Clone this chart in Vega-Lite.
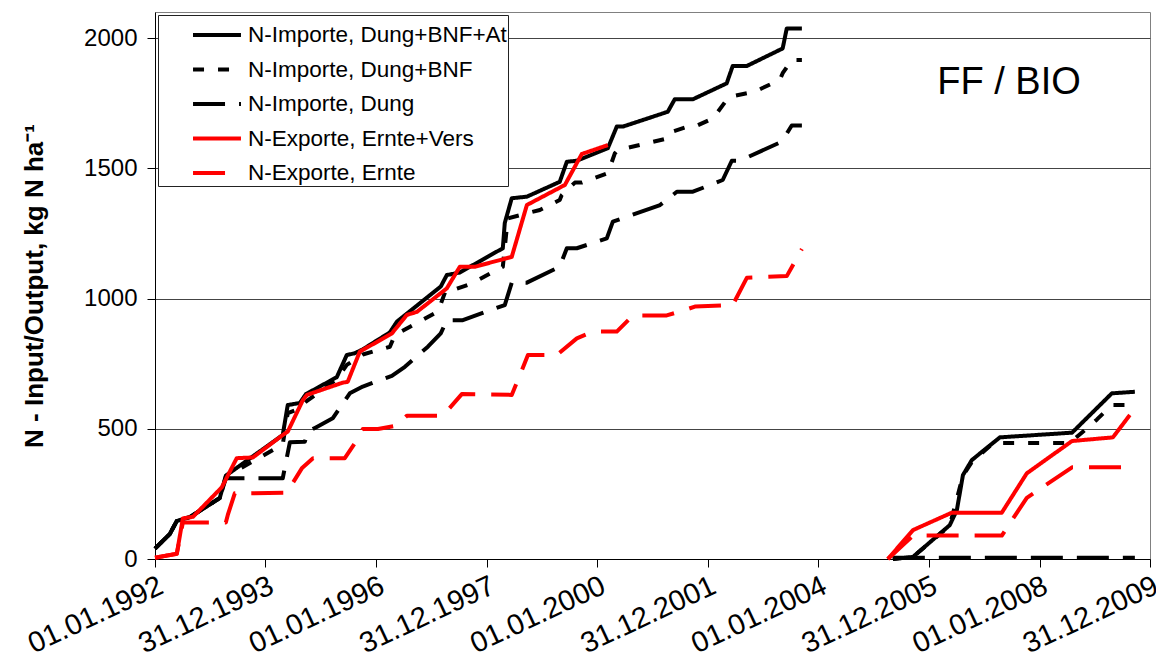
{
  "$schema": "https://vega.github.io/schema/vega-lite/v6.json",
  "width": 995,
  "height": 547,
  "autosize": {"type": "none"},
  "padding": {"left": 155, "top": 12, "right": 6, "bottom": 112},
  "background": "white",
  "config": {
    "font": "Liberation Sans",
    "view": {"stroke": "#808080", "strokeWidth": 1},
    "axis": {"labelFont": "Liberation Sans", "titleFont": "Liberation Sans", "labelColor": "black", "titleColor": "black", "domainColor": "black", "tickColor": "black"},
    "legend": {
      "title": null,
      "orient": "top-left",
      "offset": 3,
      "labelFontSize": 22.5,
      "labelFont": "Liberation Sans",
      "labelColor": "black",
      "labelLimit": 400,
      "symbolType": "M-1.41,0H1.41",
      "symbolSize": 1156,
      "symbolStrokeWidth": 4,
      "symbolOffset": 39,
      "labelOffset": 12,
      "strokeColor": "#222",
      "fillColor": "white",
      "padding": 1,
      "rowPadding": 3.5
    }
  },
  "datasets": {
    "lines": [
      {"series": "N-Importe, Dung+BNF+At", "part": 1, "date": "1992-01-01", "value": 40},
      {"series": "N-Importe, Dung+BNF+At", "part": 1, "date": "1992-04-08", "value": 96},
      {"series": "N-Importe, Dung+BNF+At", "part": 1, "date": "1992-05-24", "value": 146},
      {"series": "N-Importe, Dung+BNF+At", "part": 1, "date": "1992-08-19", "value": 161},
      {"series": "N-Importe, Dung+BNF+At", "part": 1, "date": "1993-03-04", "value": 234},
      {"series": "N-Importe, Dung+BNF+At", "part": 1, "date": "1993-04-13", "value": 320},
      {"series": "N-Importe, Dung+BNF+At", "part": 1, "date": "1994-04-24", "value": 476},
      {"series": "N-Importe, Dung+BNF+At", "part": 1, "date": "1994-05-27", "value": 591},
      {"series": "N-Importe, Dung+BNF+At", "part": 1, "date": "1994-08-15", "value": 599},
      {"series": "N-Importe, Dung+BNF+At", "part": 1, "date": "1994-09-24", "value": 633},
      {"series": "N-Importe, Dung+BNF+At", "part": 1, "date": "1995-04-16", "value": 698},
      {"series": "N-Importe, Dung+BNF+At", "part": 1, "date": "1995-06-21", "value": 783},
      {"series": "N-Importe, Dung+BNF+At", "part": 1, "date": "1995-08-13", "value": 790},
      {"series": "N-Importe, Dung+BNF+At", "part": 1, "date": "1995-10-05", "value": 805},
      {"series": "N-Importe, Dung+BNF+At", "part": 1, "date": "1996-04-01", "value": 870},
      {"series": "N-Importe, Dung+BNF+At", "part": 1, "date": "1996-05-17", "value": 911},
      {"series": "N-Importe, Dung+BNF+At", "part": 1, "date": "1997-03-03", "value": 1046},
      {"series": "N-Importe, Dung+BNF+At", "part": 1, "date": "1997-04-12", "value": 1090},
      {"series": "N-Importe, Dung+BNF+At", "part": 1, "date": "1997-07-07", "value": 1100},
      {"series": "N-Importe, Dung+BNF+At", "part": 1, "date": "1998-04-17", "value": 1193},
      {"series": "N-Importe, Dung+BNF+At", "part": 1, "date": "1998-04-30", "value": 1290},
      {"series": "N-Importe, Dung+BNF+At", "part": 1, "date": "1998-06-15", "value": 1385},
      {"series": "N-Importe, Dung+BNF+At", "part": 1, "date": "1998-09-23", "value": 1391},
      {"series": "N-Importe, Dung+BNF+At", "part": 1, "date": "1999-04-28", "value": 1448},
      {"series": "N-Importe, Dung+BNF+At", "part": 1, "date": "1999-06-14", "value": 1525},
      {"series": "N-Importe, Dung+BNF+At", "part": 1, "date": "1999-08-19", "value": 1529},
      {"series": "N-Importe, Dung+BNF+At", "part": 1, "date": "2000-03-11", "value": 1577},
      {"series": "N-Importe, Dung+BNF+At", "part": 1, "date": "2000-05-09", "value": 1660},
      {"series": "N-Importe, Dung+BNF+At", "part": 1, "date": "2000-06-18", "value": 1660},
      {"series": "N-Importe, Dung+BNF+At", "part": 1, "date": "2001-04-11", "value": 1717},
      {"series": "N-Importe, Dung+BNF+At", "part": 1, "date": "2001-05-27", "value": 1765},
      {"series": "N-Importe, Dung+BNF+At", "part": 1, "date": "2001-09-24", "value": 1765},
      {"series": "N-Importe, Dung+BNF+At", "part": 1, "date": "2002-05-05", "value": 1826},
      {"series": "N-Importe, Dung+BNF+At", "part": 1, "date": "2002-06-14", "value": 1893},
      {"series": "N-Importe, Dung+BNF+At", "part": 1, "date": "2002-09-16", "value": 1893},
      {"series": "N-Importe, Dung+BNF+At", "part": 1, "date": "2003-05-10", "value": 1960},
      {"series": "N-Importe, Dung+BNF+At", "part": 1, "date": "2003-06-06", "value": 2037},
      {"series": "N-Importe, Dung+BNF+At", "part": 1, "date": "2003-09-14", "value": 2037},
      {"series": "N-Importe, Dung+BNF+At", "part": 2, "date": "2005-05-07", "value": 0},
      {"series": "N-Importe, Dung+BNF+At", "part": 2, "date": "2005-09-17", "value": 8},
      {"series": "N-Importe, Dung+BNF+At", "part": 2, "date": "2006-05-18", "value": 130},
      {"series": "N-Importe, Dung+BNF+At", "part": 2, "date": "2006-07-04", "value": 188},
      {"series": "N-Importe, Dung+BNF+At", "part": 2, "date": "2006-08-13", "value": 322},
      {"series": "N-Importe, Dung+BNF+At", "part": 2, "date": "2006-10-11", "value": 380},
      {"series": "N-Importe, Dung+BNF+At", "part": 2, "date": "2007-04-14", "value": 467},
      {"series": "N-Importe, Dung+BNF+At", "part": 2, "date": "2008-08-03", "value": 485},
      {"series": "N-Importe, Dung+BNF+At", "part": 2, "date": "2009-04-23", "value": 636},
      {"series": "N-Importe, Dung+BNF+At", "part": 2, "date": "2009-09-22", "value": 642},

      {"series": "N-Importe, Dung+BNF", "part": 1, "date": "1992-01-01", "value": 40},
      {"series": "N-Importe, Dung+BNF", "part": 1, "date": "1992-04-08", "value": 96},
      {"series": "N-Importe, Dung+BNF", "part": 1, "date": "1992-05-24", "value": 146},
      {"series": "N-Importe, Dung+BNF", "part": 1, "date": "1992-08-19", "value": 161},
      {"series": "N-Importe, Dung+BNF", "part": 1, "date": "1993-03-04", "value": 234},
      {"series": "N-Importe, Dung+BNF", "part": 1, "date": "1993-04-13", "value": 316},
      {"series": "N-Importe, Dung+BNF", "part": 1, "date": "1994-04-24", "value": 440},
      {"series": "N-Importe, Dung+BNF", "part": 1, "date": "1994-05-27", "value": 560},
      {"series": "N-Importe, Dung+BNF", "part": 1, "date": "1994-08-15", "value": 578},
      {"series": "N-Importe, Dung+BNF", "part": 1, "date": "1994-09-24", "value": 604},
      {"series": "N-Importe, Dung+BNF", "part": 1, "date": "1995-04-16", "value": 690},
      {"series": "N-Importe, Dung+BNF", "part": 1, "date": "1995-06-21", "value": 745},
      {"series": "N-Importe, Dung+BNF", "part": 1, "date": "1995-10-05", "value": 785},
      {"series": "N-Importe, Dung+BNF", "part": 1, "date": "1996-04-01", "value": 815},
      {"series": "N-Importe, Dung+BNF", "part": 1, "date": "1996-05-04", "value": 860},
      {"series": "N-Importe, Dung+BNF", "part": 1, "date": "1997-02-13", "value": 950},
      {"series": "N-Importe, Dung+BNF", "part": 1, "date": "1997-04-06", "value": 1033},
      {"series": "N-Importe, Dung+BNF", "part": 1, "date": "1997-06-04", "value": 1035},
      {"series": "N-Importe, Dung+BNF", "part": 1, "date": "1997-09-25", "value": 1058},
      {"series": "N-Importe, Dung+BNF", "part": 1, "date": "1998-04-17", "value": 1122},
      {"series": "N-Importe, Dung+BNF", "part": 1, "date": "1998-05-20", "value": 1308},
      {"series": "N-Importe, Dung+BNF", "part": 1, "date": "1998-12-18", "value": 1340},
      {"series": "N-Importe, Dung+BNF", "part": 1, "date": "1999-04-28", "value": 1378},
      {"series": "N-Importe, Dung+BNF", "part": 1, "date": "1999-05-11", "value": 1397},
      {"series": "N-Importe, Dung+BNF", "part": 1, "date": "1999-08-06", "value": 1445},
      {"series": "N-Importe, Dung+BNF", "part": 1, "date": "1999-09-21", "value": 1445},
      {"series": "N-Importe, Dung+BNF", "part": 1, "date": "2000-03-11", "value": 1481},
      {"series": "N-Importe, Dung+BNF", "part": 1, "date": "2000-04-26", "value": 1557},
      {"series": "N-Importe, Dung+BNF", "part": 1, "date": "2000-05-16", "value": 1570},
      {"series": "N-Importe, Dung+BNF", "part": 1, "date": "2001-04-11", "value": 1615},
      {"series": "N-Importe, Dung+BNF", "part": 1, "date": "2001-05-07", "value": 1640},
      {"series": "N-Importe, Dung+BNF", "part": 1, "date": "2001-08-22", "value": 1660},
      {"series": "N-Importe, Dung+BNF", "part": 1, "date": "2001-10-07", "value": 1660},
      {"series": "N-Importe, Dung+BNF", "part": 1, "date": "2002-02-04", "value": 1692},
      {"series": "N-Importe, Dung+BNF", "part": 1, "date": "2002-05-12", "value": 1768},
      {"series": "N-Importe, Dung+BNF", "part": 1, "date": "2002-06-14", "value": 1777},
      {"series": "N-Importe, Dung+BNF", "part": 1, "date": "2002-11-08", "value": 1794},
      {"series": "N-Importe, Dung+BNF", "part": 1, "date": "2002-12-24", "value": 1807},
      {"series": "N-Importe, Dung+BNF", "part": 1, "date": "2003-04-21", "value": 1839},
      {"series": "N-Importe, Dung+BNF", "part": 1, "date": "2003-05-10", "value": 1865},
      {"series": "N-Importe, Dung+BNF", "part": 1, "date": "2003-07-09", "value": 1916},
      {"series": "N-Importe, Dung+BNF", "part": 1, "date": "2003-09-14", "value": 1916},
      {"series": "N-Importe, Dung+BNF", "part": 2, "date": "2005-05-07", "value": 0},
      {"series": "N-Importe, Dung+BNF", "part": 2, "date": "2005-09-17", "value": 8},
      {"series": "N-Importe, Dung+BNF", "part": 2, "date": "2006-05-18", "value": 128},
      {"series": "N-Importe, Dung+BNF", "part": 2, "date": "2006-08-13", "value": 320},
      {"series": "N-Importe, Dung+BNF", "part": 2, "date": "2006-10-11", "value": 372},
      {"series": "N-Importe, Dung+BNF", "part": 2, "date": "2007-02-28", "value": 445},
      {"series": "N-Importe, Dung+BNF", "part": 2, "date": "2008-07-19", "value": 445},
      {"series": "N-Importe, Dung+BNF", "part": 2, "date": "2009-01-15", "value": 536},
      {"series": "N-Importe, Dung+BNF", "part": 2, "date": "2009-04-23", "value": 591},
      {"series": "N-Importe, Dung+BNF", "part": 2, "date": "2009-09-22", "value": 591},

      {"series": "N-Importe, Dung", "part": 1, "date": "1992-01-01", "value": 40},
      {"series": "N-Importe, Dung", "part": 1, "date": "1992-04-08", "value": 96},
      {"series": "N-Importe, Dung", "part": 1, "date": "1992-05-24", "value": 146},
      {"series": "N-Importe, Dung", "part": 1, "date": "1992-08-19", "value": 161},
      {"series": "N-Importe, Dung", "part": 1, "date": "1993-03-04", "value": 234},
      {"series": "N-Importe, Dung", "part": 1, "date": "1993-04-13", "value": 310},
      {"series": "N-Importe, Dung", "part": 1, "date": "1994-04-24", "value": 310},
      {"series": "N-Importe, Dung", "part": 1, "date": "1994-06-10", "value": 448},
      {"series": "N-Importe, Dung", "part": 1, "date": "1994-09-17", "value": 450},
      {"series": "N-Importe, Dung", "part": 1, "date": "1994-10-07", "value": 489},
      {"series": "N-Importe, Dung", "part": 1, "date": "1994-11-29", "value": 505},
      {"series": "N-Importe, Dung", "part": 1, "date": "1995-03-20", "value": 540},
      {"series": "N-Importe, Dung", "part": 1, "date": "1995-07-11", "value": 636},
      {"series": "N-Importe, Dung", "part": 1, "date": "1995-10-05", "value": 662},
      {"series": "N-Importe, Dung", "part": 1, "date": "1996-04-14", "value": 703},
      {"series": "N-Importe, Dung", "part": 1, "date": "1996-07-09", "value": 738},
      {"series": "N-Importe, Dung", "part": 1, "date": "1996-12-08", "value": 815},
      {"series": "N-Importe, Dung", "part": 1, "date": "1997-03-03", "value": 866},
      {"series": "N-Importe, Dung", "part": 1, "date": "1997-04-12", "value": 917},
      {"series": "N-Importe, Dung", "part": 1, "date": "1997-07-27", "value": 917},
      {"series": "N-Importe, Dung", "part": 1, "date": "1998-04-30", "value": 975},
      {"series": "N-Importe, Dung", "part": 1, "date": "1998-06-15", "value": 1061},
      {"series": "N-Importe, Dung", "part": 1, "date": "1998-09-23", "value": 1061},
      {"series": "N-Importe, Dung", "part": 1, "date": "1999-04-28", "value": 1122},
      {"series": "N-Importe, Dung", "part": 1, "date": "1999-06-14", "value": 1193},
      {"series": "N-Importe, Dung", "part": 1, "date": "1999-08-19", "value": 1193},
      {"series": "N-Importe, Dung", "part": 1, "date": "2000-03-04", "value": 1231},
      {"series": "N-Importe, Dung", "part": 1, "date": "2000-04-13", "value": 1295},
      {"series": "N-Importe, Dung", "part": 1, "date": "2001-02-19", "value": 1359},
      {"series": "N-Importe, Dung", "part": 1, "date": "2001-06-10", "value": 1410},
      {"series": "N-Importe, Dung", "part": 1, "date": "2001-09-24", "value": 1410},
      {"series": "N-Importe, Dung", "part": 1, "date": "2002-04-09", "value": 1455},
      {"series": "N-Importe, Dung", "part": 1, "date": "2002-06-08", "value": 1529},
      {"series": "N-Importe, Dung", "part": 1, "date": "2002-07-30", "value": 1529},
      {"series": "N-Importe, Dung", "part": 1, "date": "2003-05-04", "value": 1602},
      {"series": "N-Importe, Dung", "part": 1, "date": "2003-07-09", "value": 1664},
      {"series": "N-Importe, Dung", "part": 1, "date": "2003-09-14", "value": 1664},
      {"series": "N-Importe, Dung", "part": 2, "date": "2005-05-07", "value": 5},
      {"series": "N-Importe, Dung", "part": 2, "date": "2009-09-22", "value": 5},

      {"series": "N-Exporte, Ernte+Vers", "part": 1, "date": "1992-01-01", "value": 5},
      {"series": "N-Exporte, Ernte+Vers", "part": 1, "date": "1992-05-24", "value": 20},
      {"series": "N-Exporte, Ernte+Vers", "part": 1, "date": "1992-07-03", "value": 156},
      {"series": "N-Exporte, Ernte+Vers", "part": 1, "date": "1992-09-08", "value": 162},
      {"series": "N-Exporte, Ernte+Vers", "part": 1, "date": "1993-03-17", "value": 275},
      {"series": "N-Exporte, Ernte+Vers", "part": 1, "date": "1993-06-24", "value": 387},
      {"series": "N-Exporte, Ernte+Vers", "part": 1, "date": "1993-10-09", "value": 390},
      {"series": "N-Exporte, Ernte+Vers", "part": 1, "date": "1994-04-24", "value": 476},
      {"series": "N-Exporte, Ernte+Vers", "part": 1, "date": "1994-05-27", "value": 489},
      {"series": "N-Exporte, Ernte+Vers", "part": 1, "date": "1994-09-04", "value": 610},
      {"series": "N-Exporte, Ernte+Vers", "part": 1, "date": "1994-10-01", "value": 630},
      {"series": "N-Exporte, Ernte+Vers", "part": 1, "date": "1995-05-25", "value": 677},
      {"series": "N-Exporte, Ernte+Vers", "part": 1, "date": "1995-06-27", "value": 680},
      {"series": "N-Exporte, Ernte+Vers", "part": 1, "date": "1995-09-15", "value": 796},
      {"series": "N-Exporte, Ernte+Vers", "part": 1, "date": "1996-04-14", "value": 866},
      {"series": "N-Exporte, Ernte+Vers", "part": 1, "date": "1996-07-22", "value": 937},
      {"series": "N-Exporte, Ernte+Vers", "part": 1, "date": "1996-09-27", "value": 949},
      {"series": "N-Exporte, Ernte+Vers", "part": 1, "date": "1997-04-12", "value": 1039},
      {"series": "N-Exporte, Ernte+Vers", "part": 1, "date": "1997-07-07", "value": 1122},
      {"series": "N-Exporte, Ernte+Vers", "part": 1, "date": "1997-10-15", "value": 1122},
      {"series": "N-Exporte, Ernte+Vers", "part": 1, "date": "1998-06-15", "value": 1160},
      {"series": "N-Exporte, Ernte+Vers", "part": 1, "date": "1998-09-23", "value": 1359},
      {"series": "N-Exporte, Ernte+Vers", "part": 1, "date": "1999-06-01", "value": 1436},
      {"series": "N-Exporte, Ernte+Vers", "part": 1, "date": "1999-09-21", "value": 1555},
      {"series": "N-Exporte, Ernte+Vers", "part": 1, "date": "2000-03-11", "value": 1589},
      {"series": "N-Exporte, Ernte+Vers", "part": 2, "date": "2005-04-04", "value": 0},
      {"series": "N-Exporte, Ernte+Vers", "part": 2, "date": "2005-09-17", "value": 111},
      {"series": "N-Exporte, Ernte+Vers", "part": 2, "date": "2006-06-01", "value": 178},
      {"series": "N-Exporte, Ernte+Vers", "part": 2, "date": "2007-04-27", "value": 178},
      {"series": "N-Exporte, Ernte+Vers", "part": 2, "date": "2007-10-09", "value": 329},
      {"series": "N-Exporte, Ernte+Vers", "part": 2, "date": "2008-08-03", "value": 453},
      {"series": "N-Exporte, Ernte+Vers", "part": 2, "date": "2009-04-30", "value": 467},
      {"series": "N-Exporte, Ernte+Vers", "part": 2, "date": "2009-08-20", "value": 553},

      {"series": "N-Exporte, Ernte", "part": 1, "date": "1992-01-01", "value": 5},
      {"series": "N-Exporte, Ernte", "part": 1, "date": "1992-05-24", "value": 20},
      {"series": "N-Exporte, Ernte", "part": 1, "date": "1992-07-03", "value": 140},
      {"series": "N-Exporte, Ernte", "part": 1, "date": "1993-04-13", "value": 140},
      {"series": "N-Exporte, Ernte", "part": 1, "date": "1993-04-26", "value": 169},
      {"series": "N-Exporte, Ernte", "part": 1, "date": "1993-06-11", "value": 252},
      {"series": "N-Exporte, Ernte", "part": 1, "date": "1994-05-20", "value": 254},
      {"series": "N-Exporte, Ernte", "part": 1, "date": "1994-08-28", "value": 348},
      {"series": "N-Exporte, Ernte", "part": 1, "date": "1994-11-10", "value": 387},
      {"series": "N-Exporte, Ernte", "part": 1, "date": "1995-06-08", "value": 387},
      {"series": "N-Exporte, Ernte", "part": 1, "date": "1995-08-13", "value": 444},
      {"series": "N-Exporte, Ernte", "part": 1, "date": "1995-10-05", "value": 499},
      {"series": "N-Exporte, Ernte", "part": 1, "date": "1996-01-13", "value": 499},
      {"series": "N-Exporte, Ernte", "part": 1, "date": "1996-05-17", "value": 512},
      {"series": "N-Exporte, Ernte", "part": 1, "date": "1996-07-22", "value": 550},
      {"series": "N-Exporte, Ernte", "part": 1, "date": "1997-03-17", "value": 550},
      {"series": "N-Exporte, Ernte", "part": 1, "date": "1997-07-20", "value": 633},
      {"series": "N-Exporte, Ernte", "part": 1, "date": "1998-06-15", "value": 630},
      {"series": "N-Exporte, Ernte", "part": 1, "date": "1998-08-08", "value": 706},
      {"series": "N-Exporte, Ernte", "part": 1, "date": "1998-09-30", "value": 783},
      {"series": "N-Exporte, Ernte", "part": 1, "date": "1999-04-08", "value": 783},
      {"series": "N-Exporte, Ernte", "part": 1, "date": "1999-08-19", "value": 847},
      {"series": "N-Exporte, Ernte", "part": 1, "date": "1999-12-03", "value": 873},
      {"series": "N-Exporte, Ernte", "part": 1, "date": "2000-05-09", "value": 873},
      {"series": "N-Exporte, Ernte", "part": 1, "date": "2000-08-24", "value": 935},
      {"series": "N-Exporte, Ernte", "part": 1, "date": "2001-04-04", "value": 935},
      {"series": "N-Exporte, Ernte", "part": 1, "date": "2001-08-02", "value": 956},
      {"series": "N-Exporte, Ernte", "part": 1, "date": "2001-10-07", "value": 969},
      {"series": "N-Exporte, Ernte", "part": 1, "date": "2002-06-14", "value": 975},
      {"series": "N-Exporte, Ernte", "part": 1, "date": "2002-09-16", "value": 1080},
      {"series": "N-Exporte, Ernte", "part": 1, "date": "2003-06-06", "value": 1086},
      {"series": "N-Exporte, Ernte", "part": 1, "date": "2003-07-09", "value": 1120},
      {"series": "N-Exporte, Ernte", "part": 1, "date": "2003-09-14", "value": 1190},
      {"series": "N-Exporte, Ernte", "part": 2, "date": "2005-04-04", "value": 0},
      {"series": "N-Exporte, Ernte", "part": 2, "date": "2005-09-17", "value": 90},
      {"series": "N-Exporte, Ernte", "part": 2, "date": "2007-04-27", "value": 90},
      {"series": "N-Exporte, Ernte", "part": 2, "date": "2007-10-09", "value": 235},
      {"series": "N-Exporte, Ernte", "part": 2, "date": "2008-08-03", "value": 352},
      {"series": "N-Exporte, Ernte", "part": 2, "date": "2009-09-22", "value": 352}
    ],
    "notes": [
      {"label": "FF / BIO", "date": "2006-02-24", "value": 1785}
    ]
  },
  "layer": [
    {
      "data": {"name": "lines"},
      "mark": {"type": "line", "strokeWidth": 4, "strokeJoin": "round"},
      "encoding": {
        "x": {
          "field": "date", "type": "temporal",
          "scale": {"type": "utc", "domain": [{"year": 1992, "month": 1, "date": 1, "utc": true}, {"year": 2009, "month": 12, "date": 31, "utc": true}], "nice": false},
          "axis": {
            "title": null,
            "format": "%d.%m.%Y",
            "values": [
              {"year": 1992, "month": 1, "date": 1, "utc": true},
              {"year": 1993, "month": 12, "date": 31, "utc": true},
              {"year": 1996, "month": 1, "date": 1, "utc": true},
              {"year": 1997, "month": 12, "date": 31, "utc": true},
              {"year": 2000, "month": 1, "date": 1, "utc": true},
              {"year": 2001, "month": 12, "date": 31, "utc": true},
              {"year": 2004, "month": 1, "date": 1, "utc": true},
              {"year": 2005, "month": 12, "date": 31, "utc": true},
              {"year": 2008, "month": 1, "date": 1, "utc": true},
              {"year": 2009, "month": 12, "date": 31, "utc": true}
            ],
            "labelAngle": -25,
            "labelFontSize": 29,
            "labelAlign": "right",
            "labelBaseline": "top",
            "labelPadding": 4,
            "tickSize": 8,
            "grid": false,
            "labelOverlap": false,
            "labelFlush": false,
            "labelBound": false
          }
        },
        "y": {
          "field": "value", "type": "quantitative",
          "scale": {"domain": [0, 2100], "nice": false, "zero": true},
          "axis": {
            "title": "N - Input/Output, kg N ha⁻¹",
            "titleFontSize": 26,
            "titleFontWeight": "bold",
            "titlePadding": 36,
            "values": [0, 500, 1000, 1500, 2000],
            "format": "d",
            "labelFontSize": 24,
            "labelPadding": 10,
            "tickSize": 8,
            "grid": true,
            "gridColor": "#444",
            "gridWidth": 1
          }
        },
        "color": {
          "field": "series", "type": "nominal",
          "scale": {
            "domain": ["N-Importe, Dung+BNF+At", "N-Importe, Dung+BNF", "N-Importe, Dung", "N-Exporte, Ernte+Vers", "N-Exporte, Ernte"],
            "range": ["#000000", "#000000", "#000000", "#FF0000", "#FF0000"]
          },
          "legend": {"labelExpr": "datum.label + '      '"}
        },
        "strokeDash": {
          "field": "series", "type": "nominal",
          "scale": {
            "domain": ["N-Importe, Dung+BNF+At", "N-Importe, Dung+BNF", "N-Importe, Dung", "N-Exporte, Ernte+Vers", "N-Exporte, Ernte"],
            "range": [[1, 0], [11, 14], [32, 14], [1, 0], [32, 16]]
          },
          "legend": {"labelExpr": "datum.label + '      '"}
        },
        "detail": {"field": "part", "type": "nominal"}
      }
    },
    {
      "data": {"name": "notes"},
      "mark": {"type": "text", "align": "left", "baseline": "alphabetic", "fontSize": 38, "font": "Liberation Sans", "color": "black"},
      "encoding": {
        "x": {"field": "date", "type": "temporal"},
        "y": {"field": "value", "type": "quantitative"},
        "text": {"field": "label"}
      }
    }
  ]
}
